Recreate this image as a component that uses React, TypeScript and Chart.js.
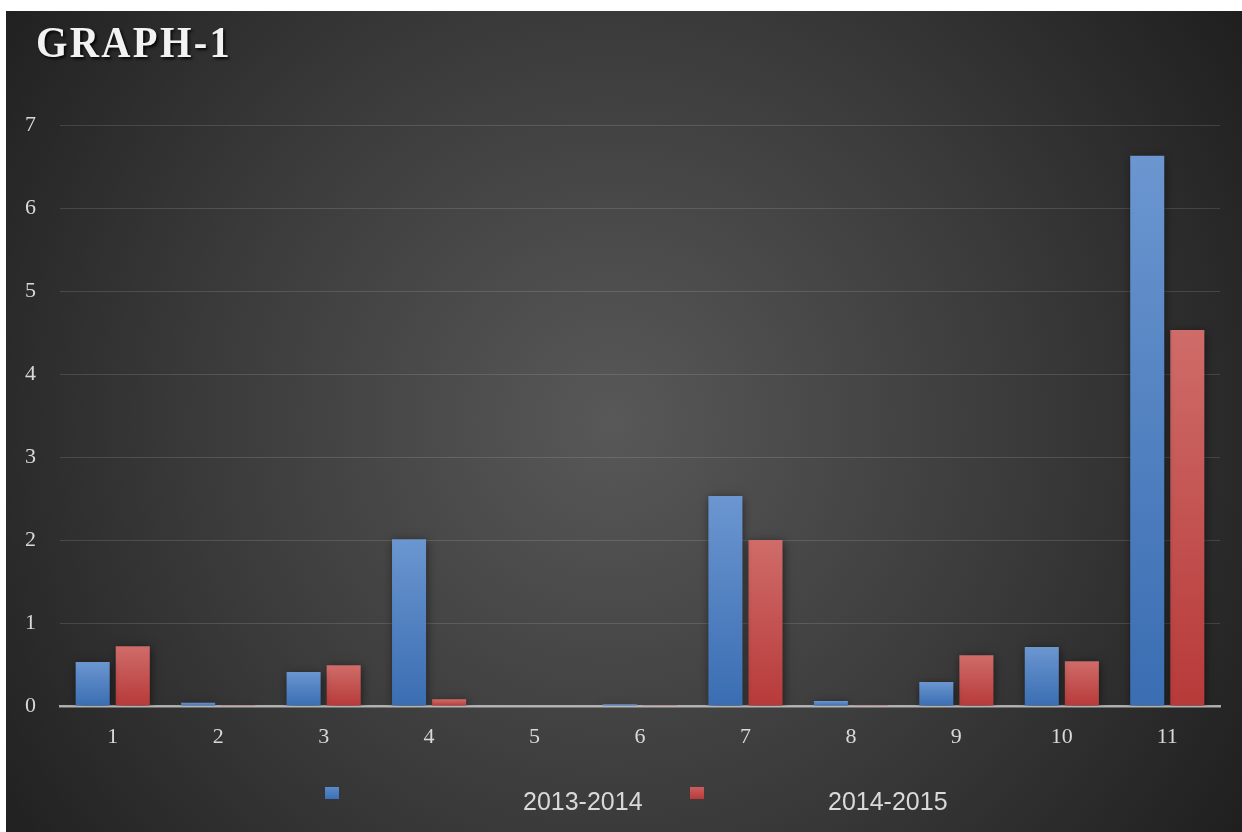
import React, { useEffect, useRef } from 'react';
import { Chart, registerables } from 'chart.js';

Chart.register(...registerables);

const categories = ['1', '2', '3', '4', '5', '6', '7', '8', '9', '10', '11'];
const series2013 = [0.53, 0.04, 0.41, 2.01, 0, 0.02, 2.53, 0.06, 0.29, 0.71, 6.63];
const series2014 = [0.72, 0.01, 0.49, 0.08, 0, 0.01, 2.0, 0.01, 0.61, 0.54, 4.53];
const seriesLabels = ['2013-2014', '2014-2015'];
const titleText = 'GRAPH-1';
const yMin = 0;
const yMax = 7;
const yStep = 1;

const BLUE_TOP = '#6b96d0';
const BLUE_BOTTOM = '#3a6db2';
const RED_TOP = '#cf6c69';
const RED_BOTTOM = '#b73a39';

function barFill(top: string, bottom: string) {
  return (ctx: any) => {
    const chart = ctx.chart;
    if (!chart.chartArea || ctx.type !== 'data' || !chart.scales.y) return bottom;
    const ys = chart.scales.y;
    const v = ctx.parsed ? ctx.parsed.y : 0;
    const y0 = ys.getPixelForValue(0);
    const y1 = ys.getPixelForValue(v);
    if (!isFinite(y0) || !isFinite(y1) || Math.abs(y0 - y1) < 1) return bottom;
    const g = chart.ctx.createLinearGradient(0, y1, 0, y0);
    g.addColorStop(0, top);
    g.addColorStop(1, bottom);
    return g;
  };
}

const barShadow = {
  id: 'barShadow',
  beforeDatasetsDraw(chart: any) {
    const c = chart.ctx;
    c.save();
    c.shadowColor = 'rgba(0,0,0,0.55)';
    c.shadowBlur = 9;
    c.shadowOffsetX = 1;
    c.shadowOffsetY = 2;
  },
  afterDatasetsDraw(chart: any) {
    chart.ctx.restore();
  },
};

const sparseLegend = {
  id: 'sparseLegend',
  afterDraw(chart: any, _args: any, opts: any) {
    const c = chart.ctx;
    const items = opts.items || [];
    chart.data.datasets.forEach((ds: any, i: number) => {
      const it = items[i];
      if (!it) return;
      c.save();
      const g = c.createLinearGradient(0, it.boxY, 0, it.boxY + it.boxH);
      g.addColorStop(0, it.top);
      g.addColorStop(1, it.bottom);
      c.fillStyle = g;
      c.fillRect(it.boxX, it.boxY, it.boxW, it.boxH);
      c.fillStyle = opts.color;
      c.font = opts.font;
      c.textBaseline = 'alphabetic';
      c.textAlign = 'left';
      c.fillText(ds.label, it.textX, it.textY);
      c.restore();
    });
  },
};

export default function App() {
  const canvasRef = useRef<HTMLCanvasElement | null>(null);

  useEffect(() => {
    if (!canvasRef.current) return;
    const chart = new Chart(canvasRef.current, {
      type: 'bar',
      data: {
        labels: categories,
        datasets: [
          {
            label: seriesLabels[0],
            data: series2013,
            backgroundColor: barFill(BLUE_TOP, BLUE_BOTTOM),
            borderWidth: 0,
            categoryPercentage: 0.76,
            barPercentage: 0.85,
          },
          {
            label: seriesLabels[1],
            data: series2014,
            backgroundColor: barFill(RED_TOP, RED_BOTTOM),
            borderWidth: 0,
            categoryPercentage: 0.76,
            barPercentage: 0.85,
          },
        ],
      },
      options: {
        animation: false,
        responsive: true,
        maintainAspectRatio: false,
        layout: { padding: { top: 114, right: 22, left: 0, bottom: 0 } },
        plugins: {
          legend: { display: false },
          title: { display: false },
          tooltip: { enabled: false },
          sparseLegend: {
            color: '#d9d9d9',
            font: '25px "Liberation Sans", Arial, sans-serif',
            items: [
              { boxX: 319, boxY: 776, boxW: 14, boxH: 12, textX: 517, textY: 799, top: '#5b8acb', bottom: '#3c70b5' },
              { boxX: 684, boxY: 776, boxW: 14, boxH: 12, textX: 822, textY: 799, top: '#cd5d5b', bottom: '#b83b3a' },
            ],
          },
        } as any,
        scales: {
          x: {
            z: 1,
            grid: { display: false, drawTicks: false },
            border: { display: true, color: 'rgba(205,205,205,0.8)', width: 2.5 },
            ticks: {
              color: '#d9d9d9',
              padding: 18,
              font: { family: '"Liberation Serif", "DejaVu Serif", serif', size: 22 },
            },
            afterFit: (s: any) => {
              s.height = 126;
            },
          },
          y: {
            min: yMin,
            max: yMax,
            grid: { color: 'rgba(255,255,255,0.13)', lineWidth: 1, drawTicks: false },
            border: { display: false },
            ticks: {
              stepSize: yStep,
              color: '#d9d9d9',
              padding: 24,
              font: { family: '"Liberation Serif", "DejaVu Serif", serif', size: 22 },
            },
            afterFit: (s: any) => {
              s.width = 54;
            },
          },
        },
      },
      plugins: [barShadow, sparseLegend],
    });
    return () => chart.destroy();
  }, []);

  return (
    <div
      style={{
        position: 'absolute',
        left: 6,
        top: 11,
        width: 1236,
        height: 821,
        background: 'radial-gradient(circle farthest-corner at 49% 50%, #585858 0%, #3a3a3a 55%, #1f1f1f 100%)',
        overflow: 'hidden',
      }}
    >
      <canvas ref={canvasRef} />
      <div
        style={{
          position: 'absolute',
          left: 30,
          top: 10,
          font: 'bold 44px "Liberation Serif", "DejaVu Serif", serif',
          lineHeight: '44px',
          letterSpacing: '2.5px',
          transform: 'scaleX(0.92)',
          transformOrigin: 'left top',
          color: '#f2f2f2',
          textShadow: '2px 2px 3px rgba(0,0,0,0.85)',
          pointerEvents: 'none',
          whiteSpace: 'nowrap',
        }}
      >
        {titleText}
      </div>
    </div>
  );
}
